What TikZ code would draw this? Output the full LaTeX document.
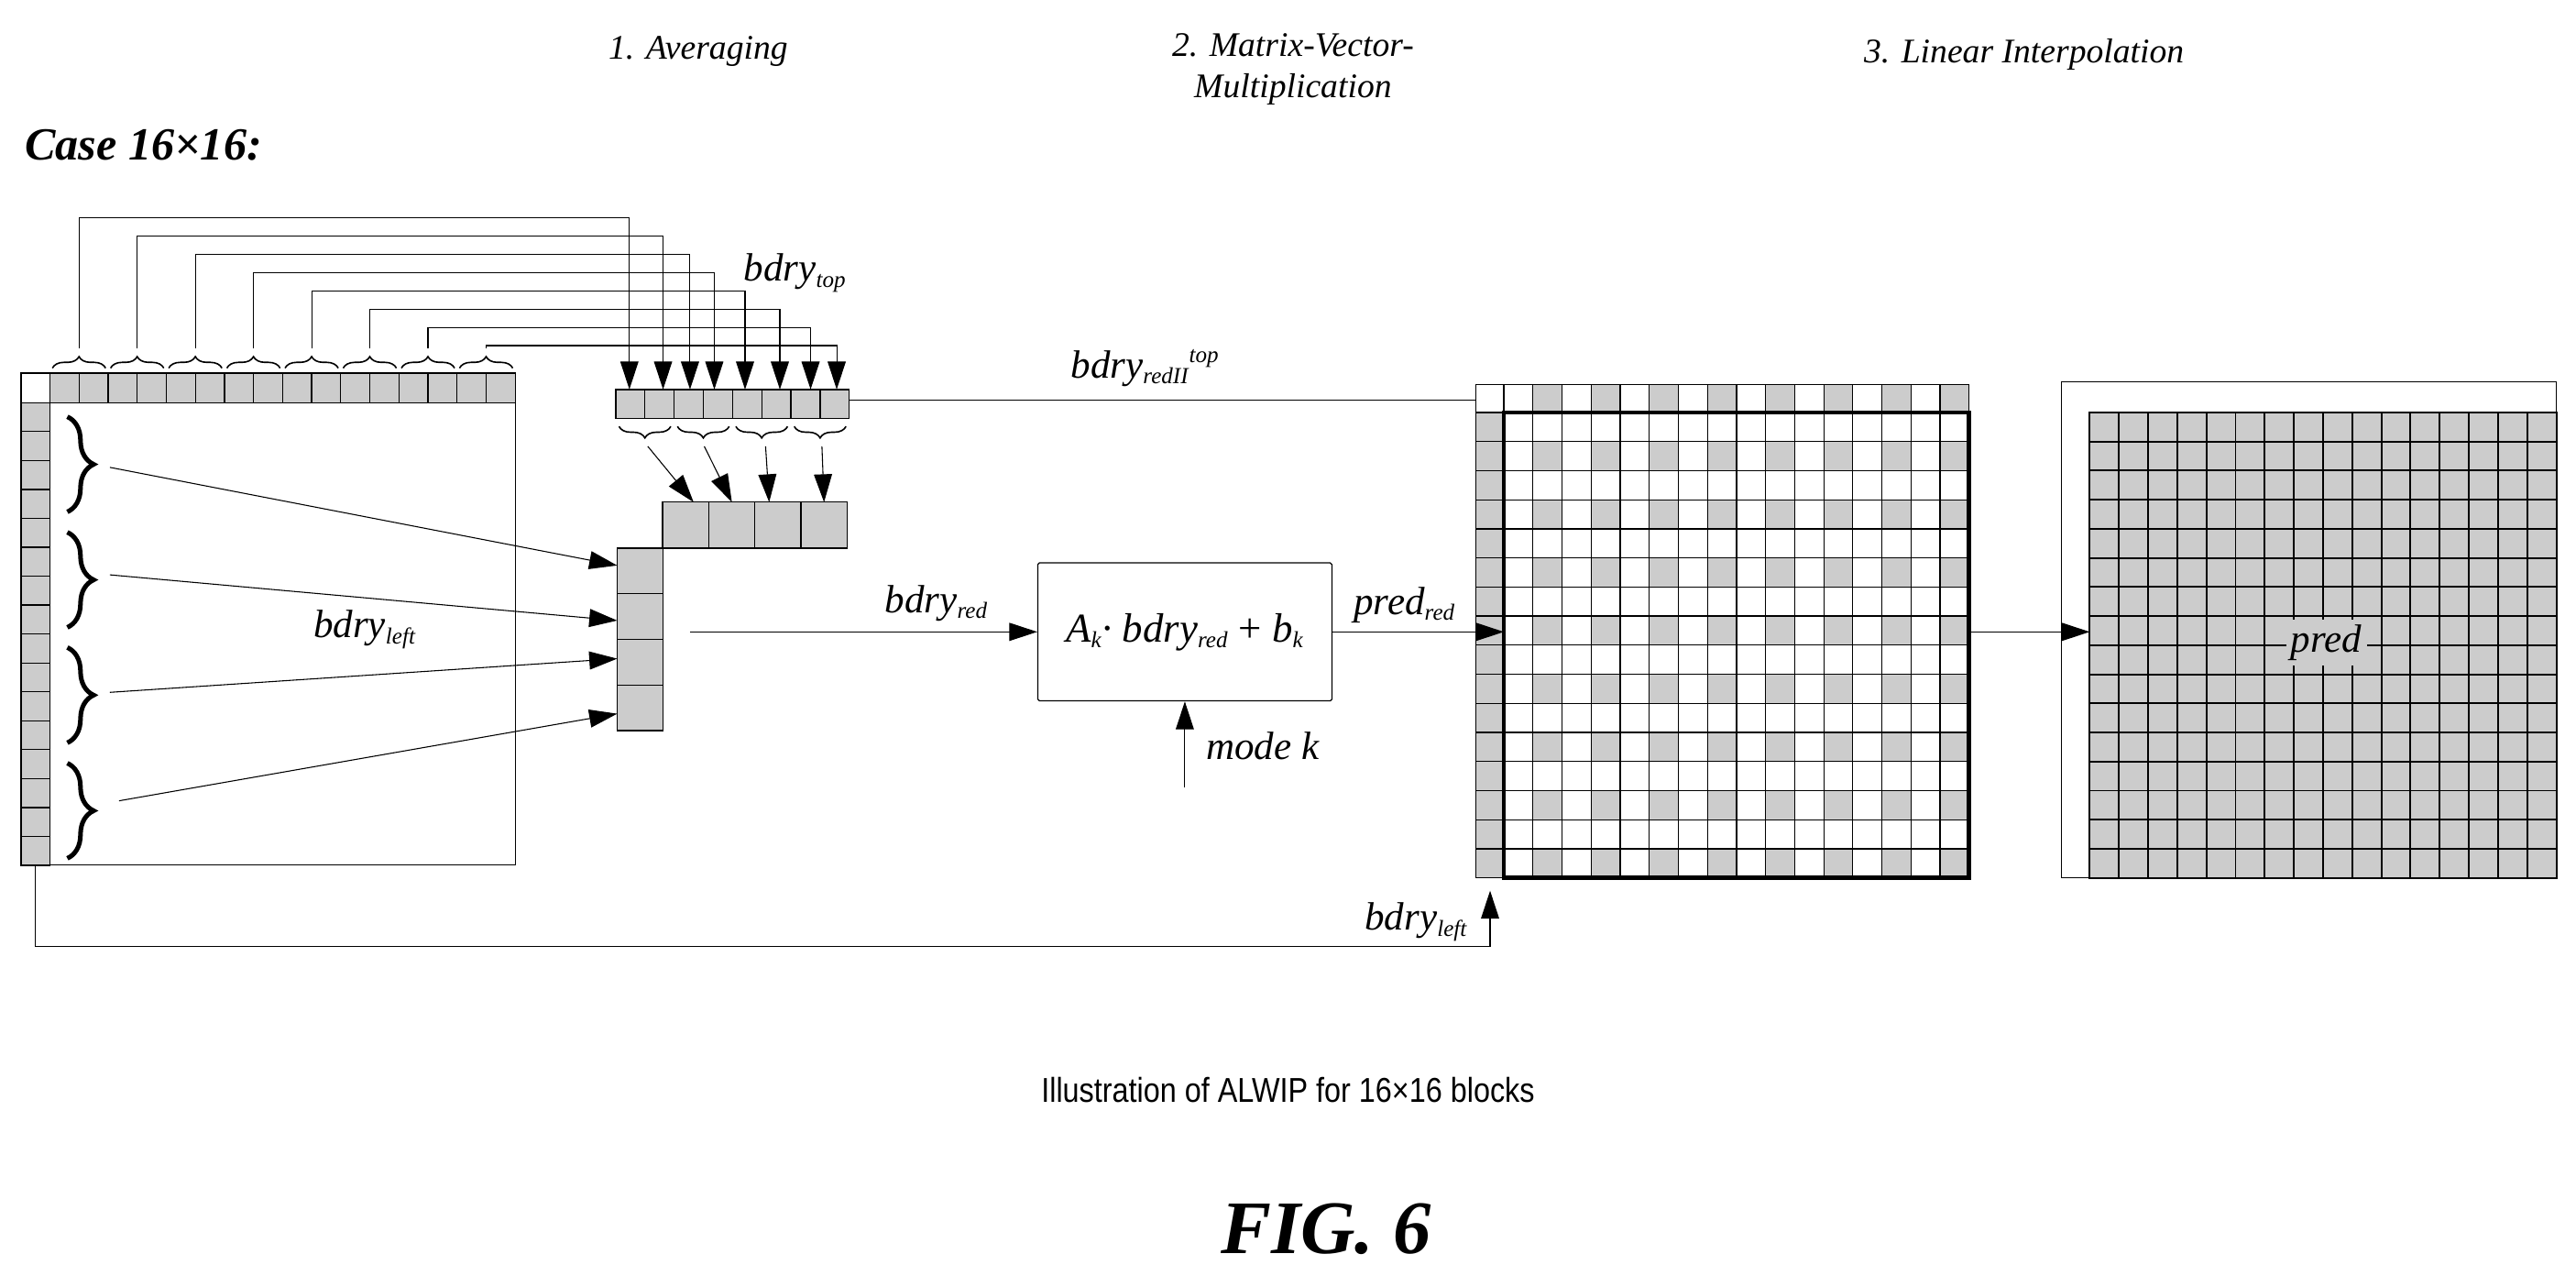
\documentclass[tikz,border=0pt]{standalone}
\usepackage{fontspec}
\setmainfont{Liberation Serif}
\newfontfamily\capfont[FakeStretch=0.86]{Liberation Sans}
\usetikzlibrary{arrows.meta,decorations.pathreplacing}
\newcommand{\sbx}[1]{\textsubscript{\fontsize{14}{14}\selectfont #1}}
\begin{document}
\begin{tikzpicture}[x=1pt,y=-1pt,
  cell/.style={draw,fill=gray!40,line width=0.7pt},
  wcell/.style={draw,fill=white,line width=0.7pt},
  arr/.style={-{Triangle[length=17pt,width=11pt]},line width=0.6pt},
  lbl/.style={font=\fontsize{24}{26}\selectfont\itshape,inner sep=0pt},
  ttl/.style={font=\fontsize{21}{25}\selectfont\itshape,align=center},
  tbrace/.style={decorate,decoration={brace,amplitude=7pt},line width=0.9pt},
  lbrace/.style={decorate,decoration={brace,amplitude=16pt},line width=2.8pt}]
\useasboundingbox (0,0) rectangle (1568,776);
% titles
\node[ttl] (t1) at (425,31) {1. Averaging};
\node[ttl] (t2) at (787,42) {2. Matrix-Vector-\\Multiplication};
\node[ttl] (t3) at (1232,33) {3. Linear Interpolation};
\node[anchor=west,font=\fontsize{28}{30}\selectfont\bfseries\itshape,inner sep=0pt] (case) at (15,88) {Case 16×16:};
% left block
\draw[line width=0.6pt] (12.8,227) rectangle (313.7,526.5);
\draw[wcell] (12.8,227) rectangle (30.4,245);
\foreach \i in {0,...,15} \draw[cell] ({30.4+17.7*\i},227) rectangle ++(17.7,18);
\foreach \j in {0,...,15} \draw[cell] (12.8,{245+17.6*\j}) rectangle ++(17.6,17.6);
% top braces and connectors
\foreach \i/\d in {0/383.1,1/403.6,2/420,3/434.8,4/453.5,5/474.7,6/493.4,7/509.3}{
  \pgfmathsetmacro{\xa}{30.4+35.4*\i+1.5}
  \pgfmathsetmacro{\xb}{30.4+35.4*\i+35.4-1.5}
  \pgfmathsetmacro{\cx}{30.4+35.4*\i+17.7}
  \pgfmathsetmacro{\lv}{132.6+11.1*\i}
  \draw[tbrace] (\xa,224) -- (\xb,224);
  \draw[arr] (\cx,212) -- (\cx,\lv) -- (\d,\lv) -- (\d,237);
}
% first small vector
\foreach \i in {0,...,7} \draw[cell] ({374.8+17.775*\i},237) rectangle ++(17.775,17.8);
\foreach \i in {0,...,3} {
  \pgfmathsetmacro{\xa}{374.8+35.55*\i+33.5}
  \pgfmathsetmacro{\xb}{374.8+35.55*\i+2}
  \draw[tbrace] (\xa,259.5) -- (\xb,259.5);
}
\node[lbl] (btop) at (484,166) {bdry\sbx{top}};
% second vector (top reduced)
\foreach \i in {0,...,3} \draw[cell] ({403.3+28.07*\i},305.6) rectangle ++(28.07,27.9);
\coordinate (s0) at (394.3,271.6); \coordinate (e0) at (422.2,305.6);
\coordinate (s1) at (428.7,271.6); \coordinate (e1) at (445.5,305.6);
\coordinate (s2) at (466,271.6);   \coordinate (e2) at (468.2,305.6);
\coordinate (s3) at (500.3,271.6); \coordinate (e3) at (501.6,305.6);
\foreach \k in {0,...,3} \draw[arr] (s\k) -- (e\k);
% left reduced vector
\foreach \j in {0,...,3} \draw[cell] (375.7,{333.5+27.75*\j}) rectangle ++(27.9,27.75);
\draw[line width=1pt] (375.7,333.5) rectangle (403.6,444.5);
% left braces
\foreach \a/\b in {253.6/311.5,323.9/381.8,394/452,464.4/522.3}
  \draw[lbrace] (41,\a) -- (41,\b);
\coordinate (l0) at (66.9,284.4); \coordinate (m0) at (375.7,344.1);
\coordinate (l1) at (66.9,349.8); \coordinate (m1) at (375.7,377.6);
\coordinate (l2) at (66.9,421.3); \coordinate (m2) at (375.7,400.8);
\coordinate (l3) at (72.5,487.3); \coordinate (m3) at (375.7,434.3);
\foreach \k in {0,...,3} \draw[arr] (l\k) -- (m\k);
\node[lbl] (bleft) at (222,383) {bdry\sbx{left}};
% matrix box
\node[draw,line width=0.7pt,rounded corners=1pt,minimum width=179pt,minimum height=84pt,
      font=\fontsize{25}{27}\selectfont\itshape] (box) at (721.2,384.5)
      {A\sbx{k}\textperiodcentered\ bdry\sbx{red} \textup{+} b\sbx{k}};
\coordinate (bs) at (420,384.5);
\draw[arr] (bs) -- (box.west |- bs);
\node[lbl] (bred) at (570,367) {bdry\sbx{red}};
\coordinate (mk) at (721.2,479);
\draw[arr] (mk) -- (box.south);
\node[lbl,anchor=west] (mode) at (734,454) {mode k};
% top reduced line
\coordinate (tr0) at (517,243.7); \coordinate (tr1) at (933,243.7);
\draw[arr] (tr0) -- (tr1);
\node[lbl] (bred2) at (697,224) {bdry\sbx{redII}\textsuperscript{\fontsize{14}{14}\selectfont top}};
% main grid
\draw[wcell] (898.3,233.8) rectangle (915.4,251);
\foreach \c in {0,...,15}{
  \pgfmathtruncatemacro{\odd}{mod(\c,2)}
  \ifnum\odd=1 \draw[cell] ({915.4+17.7*\c},233.8) rectangle ++(17.7,17.2);
  \else \draw[wcell] ({915.4+17.7*\c},233.8) rectangle ++(17.7,17.2); \fi
}
\foreach \r in {0,...,15} \draw[cell] (898.3,{251+17.7*\r}) rectangle ++(17.1,17.7);
\foreach \r in {0,...,15}{\foreach \c in {0,...,15}{
  \pgfmathtruncatemacro{\g}{mod(\r,2)*mod(\c,2)}
  \ifnum\g=1 \draw[cell] ({915.4+17.7*\c},{251+17.7*\r}) rectangle ++(17.7,17.7);
  \else \draw[wcell] ({915.4+17.7*\c},{251+17.7*\r}) rectangle ++(17.7,17.7); \fi
}}
\draw[line width=2.6pt] (915.4,251) rectangle (1198.6,534.2);
\coordinate (pr0) at (810.8,384.5); \coordinate (pr1) at (915.4,384.5);
\draw[arr] (box.east |- pr0) -- (pr1);
\node[lbl] (pred) at (855,368) {pred\sbx{red}};
% bottom bdry_left
\coordinate (bl0) at (21.3,526.5); \coordinate (bl1) at (907,542);
\draw[arr] (bl0) -- (21.3,575.8) -| (bl1);
\node[lbl] (bl) at (862,561) {bdry\sbx{left}};
% final grid
\draw[line width=0.7pt] (1254.6,232.5) rectangle (1556,534.2);
\foreach \r in {0,...,15}{\foreach \c in {0,...,15}{
  \draw[cell,line width=1.1pt] ({1272+17.75*\c},{251+17.7*\r}) rectangle ++(17.75,17.7);
}}
\coordinate (f0) at (1198.6,384.5); \coordinate (f1) at (1272,384.5);
\draw[arr] (f0) -- (f1);
\node[lbl,fill=gray!40,inner sep=3pt] (predf) at (1416,391) {pred};
% caption
\node[font=\capfont\fontsize{21}{24}\selectfont] (cap) at (784,663) {Illustration of ALWIP for 16×16 blocks};
\node[font=\fontsize{46}{50}\selectfont\bfseries\itshape] (fig) at (807,748) {FIG. 6};
\end{tikzpicture}
\end{document}
